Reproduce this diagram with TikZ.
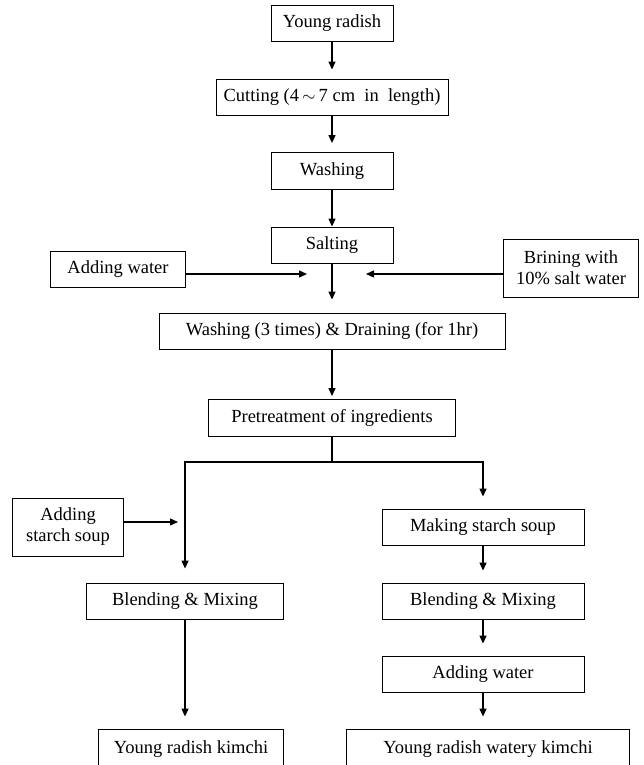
\documentclass[tikz,border=0pt]{standalone}
\usepackage{fontspec}
\setmainfont{Liberation Serif}
\usetikzlibrary{arrows.meta,positioning}

\begin{document}
\begin{tikzpicture}[x=1pt,y=-1pt,>={Triangle[length=8pt,width=7pt]},
  box/.style={draw,line width=0.9pt,inner sep=0pt,align=center,font=\fontsize{18.5}{21}\selectfont},
  line/.style={box,text height=12.5pt,text depth=4pt},
  flow/.style={->,line width=1.3pt,shorten >=9pt}]
\clip (0,0) rectangle (644,765);
% main column
\node (yr)    [line,minimum width=122pt,minimum height=36pt] at (332,23)  {Young radish};
\node (cut)   [line,minimum width=232pt,minimum height=36pt] at (332,97)  {Cutting (4\,$\sim$\,7 cm\ \ in\ \ length)};
\node (wash)  [line,minimum width=122pt,minimum height=37pt] at (332,171) {Washing};
\node (salt)  [line,minimum width=122pt,minimum height=36pt] at (332,245) {Salting};
\node (addw)  [line,minimum width=135pt,minimum height=36pt] at (118,269) {Adding water};
\node (brine) [box,minimum width=135pt,minimum height=58pt] at (571,268) {Brining with\\10\% salt water};
\node (wash3) [line,minimum width=346pt,minimum height=36pt] at (332,331) {Washing (3 times) \& Draining (for 1hr)};
\node (pre)   [line,minimum width=247pt,minimum height=37pt] at (332,418) {Pretreatment of ingredients};
% left branch
\node (addss)  [box,minimum width=111pt,minimum height=58pt] at (68,527)  {Adding\\starch soup};
\node (blendL) [line,minimum width=197pt,minimum height=36pt] at (185,601) {Blending \& Mixing};
\node (yrk)    [line,minimum width=185pt,minimum height=40pt] at (191,749) {Young radish kimchi};
% right branch
\node (mss)    [line,minimum width=202pt,minimum height=36pt] at (483,527) {Making starch soup};
\node (blendR) [line,minimum width=202pt,minimum height=36pt] at (483,601) {Blending \& Mixing};
\node (addwR)  [line,minimum width=202pt,minimum height=36pt] at (483,674) {Adding water};
\node (yrwk)   [line,minimum width=283pt,minimum height=40pt] at (488,749) {Young radish watery kimchi};

\coordinate (wtip) at (307,274);
\coordinate (btip) at (366,274);
\coordinate (jn)   at (332,462);
\coordinate (stip) at (178,522);

\draw[flow] (yr) -- (cut);
\draw[flow] (cut) -- (wash);
\draw[flow,shorten >=0pt] (wash) -- (salt);
\draw[flow,shorten >=13pt] (salt) -- (wash3);
\draw[flow,shorten >=0pt] (addw.east |- wtip) -- (wtip);
\draw[flow,shorten >=0pt] (brine.west |- btip) -- (btip);
\draw[flow,shorten >=3pt] (wash3) -- (pre);
\draw[flow,shorten >=14pt] (pre.south) -- (jn) -| (blendL.north);
\draw[flow,shorten >=12pt] (jn) -| (mss.north);
\draw[flow,shorten >=0pt] (addss.east |- stip) -- (stip);
\draw[flow,shorten >=12pt] (blendL.south) -- (blendL.south |- yrk.north);
\draw[flow,shorten >=12pt] (mss) -- (blendR);
\draw[flow,shorten >=12pt] (blendR) -- (addwR);
\draw[flow,shorten >=12pt] (addwR.south) -- (addwR.south |- yrwk.north);
\end{tikzpicture}
\end{document}
